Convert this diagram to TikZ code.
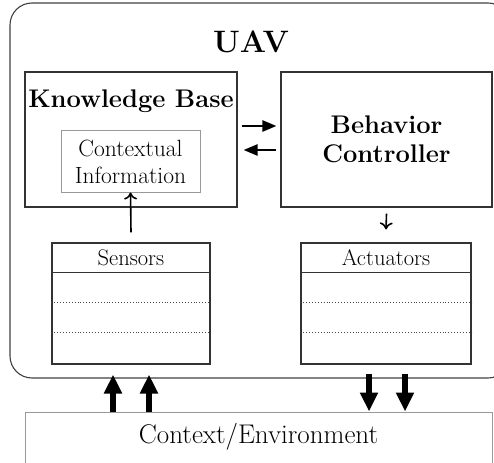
\documentclass[tikz,border=0pt]{standalone}
\usetikzlibrary{arrows.meta,calc}
\begin{document}
\begin{tikzpicture}[x=1pt,y=-1pt,
  box/.style={draw=black!80, line width=1.1pt, rectangle, inner sep=0pt},
  lightbox/.style={draw=black!40, line width=1pt, rectangle, inner sep=0pt},
  boldtxt/.style={font=\fontsize{25.5}{28.8}\selectfont\bfseries, align=center},
  normtxt/.style={font=\fontsize{23.5}{27}\selectfont, align=center},
  smalltxt/.style={font=\fontsize{22.5}{25}\selectfont},
  midarrow/.style={line width=2.4pt, -{Triangle[width=11pt,length=14pt]}},
  thinarrow/.style={line width=1.6pt, -{To[width=13pt,length=7pt]}},
  bigarrow/.style={line width=5.5pt, -{Triangle[width=17pt,length=19pt]}},
  sep/.style={line width=1pt, black!80},
  dots/.style={line width=0.9pt, dotted, black!70}]
\useasboundingbox (0,0) rectangle (494,462);
\clip (0,0) rectangle (494,462);

% outer UAV container
\node[draw=black!75, line width=1.1pt, rounded corners=22pt, minimum width=500pt, minimum height=375pt, inner sep=0pt] (uav) at (260,190.5) {};
\node[font=\fontsize{31}{34}\selectfont\bfseries] (title) at (251,42) {UAV};

% knowledge base
\node[box, minimum width=212pt, minimum height=135pt] (kb) at (131,139.5) {};
\node[boldtxt, anchor=base] (kbl) at (131,108) {Knowledge Base};
\node[lightbox, normtxt, minimum width=139pt, minimum height=61pt] (ci) at (130.5,161.5) {Contextual\\Information};

% behavior controller
\node[box, boldtxt, minimum width=211pt, minimum height=135pt] (bc) at (386.5,139.5) {Behavior\\Controller};

% sensors
\node[box, minimum width=158pt, minimum height=121pt] (sen) at (131,303.5) {};
\draw[sep] ([yshift=-30pt]sen.north west) -- ([yshift=-30pt]sen.north east);
\draw[dots] ([yshift=-60pt]sen.north west) -- ([yshift=-60pt]sen.north east);
\draw[dots] ([yshift=-90pt]sen.north west) -- ([yshift=-90pt]sen.north east);
\node[smalltxt] (senl) at ($(sen.north)+(0,15)$) {Sensors};

% actuators
\node[box, minimum width=170pt, minimum height=121pt] (act) at (386,303.5) {};
\draw[sep] ([yshift=-30pt]act.north west) -- ([yshift=-30pt]act.north east);
\draw[dots] ([yshift=-60pt]act.north west) -- ([yshift=-60pt]act.north east);
\draw[dots] ([yshift=-90pt]act.north west) -- ([yshift=-90pt]act.north east);
\node[smalltxt] (actl) at ($(act.north)+(0,15)$) {Actuators};

% environment
\node[lightbox, minimum width=467pt, minimum height=70pt] (env) at (258.5,447) {};
\node[font=\fontsize{27}{30}\selectfont] (envl) at (258.5,437) {Context/Environment};

% arrows between KB and BC
\draw[midarrow] ([xshift=4pt,yshift=13.5pt]kb.east) -- ([xshift=-4pt,yshift=13.5pt]bc.west);
\draw[midarrow] ([xshift=-4pt,yshift=-10.5pt]bc.west) -- ([xshift=6pt,yshift=-10.5pt]kb.east);

% sensors -> contextual info
\draw[thinarrow] ([yshift=10pt]sen.north) -- (ci.south);
% bc -> actuators
\draw[thinarrow] ([yshift=-6pt]bc.south) -- ([yshift=13pt]act.north);

% environment <-> uav
\draw[bigarrow] ([xshift=-145.5pt]env.north) -- ($(env.north)+(-145.5,-37)$);
\draw[bigarrow] ([xshift=-109.5pt]env.north) -- ($(env.north)+(-109.5,-37)$);
\draw[bigarrow] ($(env.north)+(110.5,-38)$) -- ([xshift=110.5pt]env.north);
\draw[bigarrow] ($(env.north)+(146.5,-38)$) -- ([xshift=146.5pt]env.north);
\end{tikzpicture}
\end{document}
